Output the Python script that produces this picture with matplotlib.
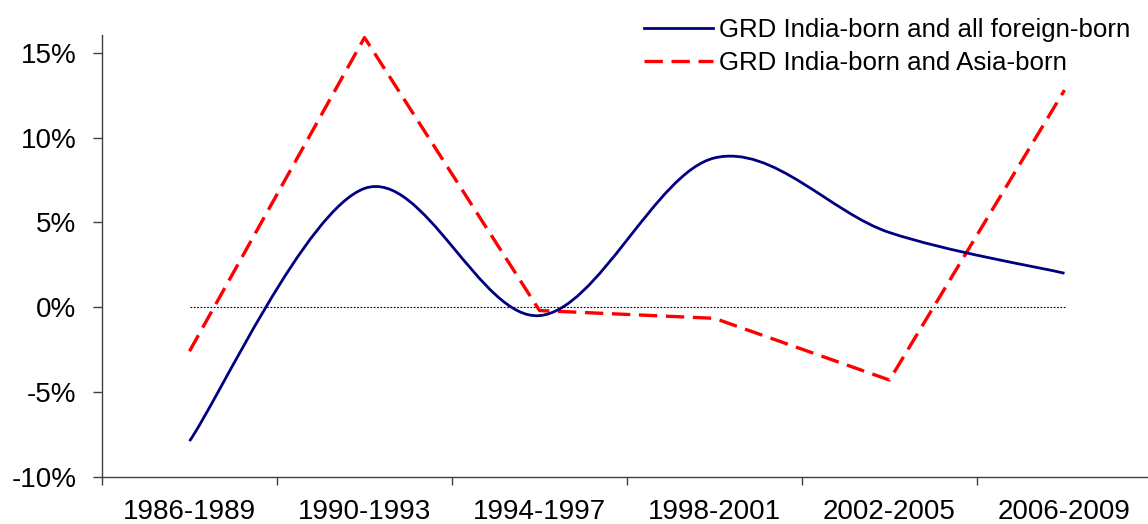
import matplotlib.pyplot as plt
from matplotlib.path import Path
from matplotlib.patches import PathPatch
from matplotlib.lines import Line2D
from matplotlib.ticker import FuncFormatter

plt.rcParams['font.family'] = ['Liberation Sans', 'DejaVu Sans']

periods = ["1986-1989", "1990-1993", "1994-1997", "1998-2001", "2002-2005", "2006-2009"]
grd_all_foreign = [-0.079, 0.070, -0.005, 0.088, 0.044, 0.020]
grd_asia = [-0.026, 0.159, -0.002, -0.0066, -0.043, 0.128]


def smooth_path(xs, ys):
    # Excel-style smoothed line: cubic Bezier segments through every point
    pts = list(zip(xs, ys))
    verts = [pts[0]]
    codes = [Path.MOVETO]
    n = len(pts)
    for i in range(n - 1):
        p0 = pts[i - 1] if i > 0 else pts[i]
        p1 = pts[i]
        p2 = pts[i + 1]
        p3 = pts[i + 2] if i + 2 < n else pts[i + 1]
        c1 = (p1[0] + (p2[0] - p0[0]) / 6, p1[1] + (p2[1] - p0[1]) / 6)
        c2 = (p2[0] - (p3[0] - p1[0]) / 6, p2[1] - (p3[1] - p1[1]) / 6)
        verts += [c1, c2, p2]
        codes += [Path.CURVE4] * 3
    return Path(verts, codes)


fig = plt.figure(figsize=(11.48, 5.24), dpi=100)
ax = fig.add_axes([102 / 1148, 1 - 476.7 / 524, 1050 / 1148, (476.7 - 35) / 524])

x = list(range(len(periods)))
dash = (0, (5.5, 2.6))

ax.plot(x, [0] * len(x), color="black", lw=0.8, linestyle=(0, (1.5, 1.5)), zorder=1)

ax.add_patch(PathPatch(smooth_path(x, grd_all_foreign), facecolor="none",
                       edgecolor="#000080", lw=2.0, zorder=3))
ax.plot(x, grd_asia, color="#FF0000", lw=2.4, linestyle=dash, zorder=2)

ax.set_xlim(-0.5, 5.5)
ax.set_ylim(-0.10, 0.1605)
ax.set_yticks([-0.10, -0.05, 0, 0.05, 0.10, 0.15])
ax.yaxis.set_major_formatter(FuncFormatter(lambda v, p: f"{v * 100:.0f}%"))
ax.set_xticks(x)
ax.set_xticklabels(periods)
ax.set_xticks([i - 0.5 for i in range(len(periods) + 1)], minor=True)
ax.tick_params(axis="x", which="major", length=0, pad=16, labelsize=20)
ax.tick_params(axis="x", which="minor", length=6, width=1, color="#404040")
ax.tick_params(axis="y", length=6.5, width=1, color="#404040", labelsize=20, pad=12)

for side in ["top", "right"]:
    ax.spines[side].set_visible(False)
for side in ["left", "bottom"]:
    ax.spines[side].set_color("#404040")
    ax.spines[side].set_linewidth(1)

handles = [Line2D([], [], color="#000080", lw=2.0),
           Line2D([], [], color="#FF0000", lw=2.4, linestyle=dash)]
fig.legend(handles, ["GRD India-born and all foreign-born", "GRD India-born and Asia-born"],
           loc="upper left", bbox_to_anchor=(621 / 1148, 1 + 5 / 524), frameon=False,
           fontsize=18.6, handlelength=2.65, handletextpad=0.25, labelspacing=0.34)

fig.savefig("out.png", dpi=100)
